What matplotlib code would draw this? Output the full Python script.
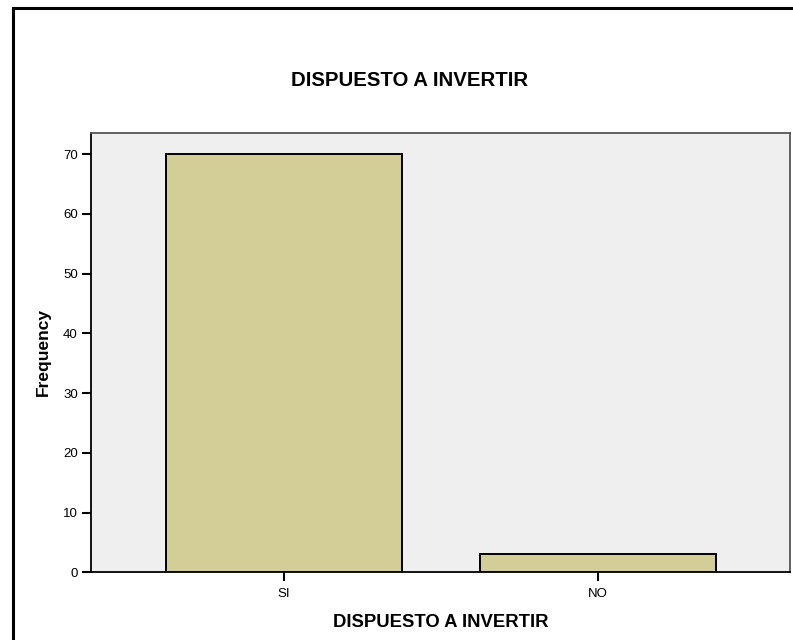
import matplotlib
matplotlib.use("Agg")
import matplotlib.pyplot as plt
from matplotlib.patches import Rectangle

categories = ["SI", "NO"]
frequencies = [70, 3]
y_ticks = [0, 10, 20, 30, 40, 50, 60, 70]

plt.rcParams['font.family'] = ['Liberation Sans', 'DejaVu Sans']

fig = plt.figure(figsize=(7.93, 6.40), dpi=100)
fig.patch.set_facecolor('white')

# outer frame (extends beyond right/bottom edges)
frame = Rectangle((13/793, -0.1), 1.2, 1.1 - 8/640, transform=fig.transFigure,
                  fill=False, edgecolor='black', linewidth=2.2, clip_on=False)
fig.patches.append(frame)

ax = fig.add_axes([91/793, (640-572.3)/640, (790-91)/793, (572.3-132.7)/640])
ax.set_facecolor('#EFEFEF')

x = list(range(len(categories)))
ax.bar(x, frequencies, width=0.751, color='#D3CE97', edgecolor='black', linewidth=1.4, zorder=3)

ax.set_xlim(-0.613, 1.611)
ax.set_ylim(0, 73.6)
ax.set_xticks(x)
ax.set_xticklabels(categories, fontsize=9.5)
ax.set_yticks(y_ticks)
ax.set_yticklabels([str(v) for v in y_ticks], fontsize=9.5)
ax.tick_params(axis='both', length=6.5, width=1.5, color='black')
ax.tick_params(axis='x', pad=5)
ax.tick_params(axis='y', pad=3)

for side in ['left', 'bottom']:
    ax.spines[side].set_color('black')
    ax.spines[side].set_linewidth(1.3)
for side in ['top', 'right']:
    ax.spines[side].set_color('#555555')
    ax.spines[side].set_linewidth(1.3)

ax.set_xlabel("DISPUESTO A INVERTIR", fontsize=13.3, fontweight='bold', labelpad=10)
ax.set_ylabel("Frequency", fontsize=12.5, fontweight='bold', labelpad=9)

fig.text(409.5/793, 1 - 81/640, "DISPUESTO A INVERTIR", ha='center', va='center',
         fontsize=14.7, fontweight='bold')

fig.savefig("out.png", dpi=100)
